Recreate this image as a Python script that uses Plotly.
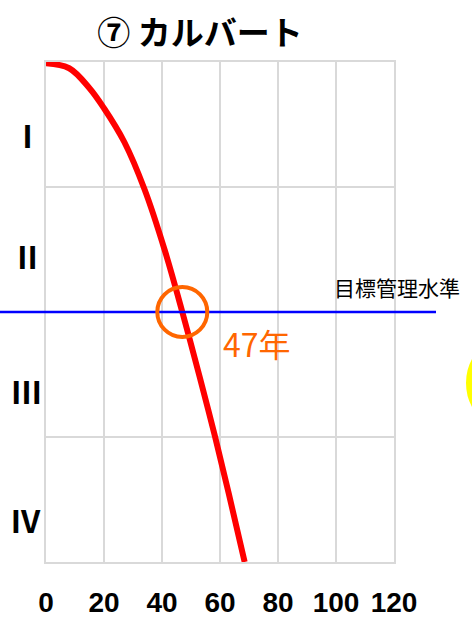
import plotly.graph_objects as go

# Deterioration curve: soundness level vs. elapsed years
years = [0, 8, 15, 20, 27, 34, 41, 47, 53, 58, 63, 68.5]
soundness = [3.99, 3.95, 3.79, 3.63, 3.36, 2.98, 2.49, 2.0, 1.48, 1.03, 0.55, 0.0]

x_ticks = [0, 20, 40, 60, 80, 100, 120]
grade_labels = ["Ⅰ", "Ⅱ", "Ⅲ", "Ⅳ"]
grade_bounds = [0, 1, 2, 3, 4]

target_level = 2.0
target_year = 47
target_label = "目標管理水準"
year_label = f"{target_year}年"
title_text = "⑦ カルバート"

X_RANGE = [0, 120]
Y_RANGE = [0, 4]
GRID = "#d9d9d9"
ORANGE = "#ff6600"
NARROW = "Liberation Sans Narrow, Liberation Sans, Arial, sans-serif"
JP = "Noto Sans CJK JP, sans-serif"

fig = go.Figure()
fig.add_trace(go.Scatter(
    x=years, y=soundness, mode="lines",
    line=dict(color="#ff0000", width=6, shape="spline"),
    hoverinfo="skip", showlegend=False,
))


def py(v):
    """Paper y fraction of a data y value."""
    return (v - Y_RANGE[0]) / (Y_RANGE[1] - Y_RANGE[0])


fig.update_layout(
    width=472, height=629,
    margin=dict(l=46, r=78, t=62, b=67),
    paper_bgcolor="white", plot_bgcolor="white",
    title=dict(
        text=title_text, xref="paper", x=0.4425, xanchor="center",
        yref="container", y=0.947, yanchor="middle",
        font=dict(family=JP, size=33, color="black", weight="bold"),
    ),
    xaxis=dict(
        range=X_RANGE, tickvals=x_ticks, showgrid=True, gridcolor=GRID, gridwidth=2,
        showline=True, linecolor=GRID, linewidth=2, mirror=True, zeroline=False,
        ticks="", ticklabelstandoff=14, tickangle=0, automargin=False,
        tickfont=dict(family=NARROW, size=28, color="black", weight="bold"),
    ),
    yaxis=dict(
        range=Y_RANGE, tickvals=grade_bounds, showticklabels=False,
        showgrid=True, gridcolor=GRID, gridwidth=2,
        showline=True, linecolor=GRID, linewidth=2, mirror=True,
        zeroline=False, ticks="", automargin=False,
    ),
)

# Grade labels I–IV placed in their bands, left of the axis
grade_label_y = [3.42, 2.45, 1.37, 0.34]
grade_label_x = [27, 27.5, 26, 25]
for lab, gy, gx in zip(grade_labels, grade_label_y, grade_label_x):
    fig.add_annotation(text=lab, xref="paper", yref="y",
                       x=(gx - 46) / 348, y=gy, xanchor="center", yanchor="middle",
                       showarrow=False,
                       font=dict(family=JP, size=31, color="black", weight="bold"))

# Target management level line, running past the plot edges
fig.add_shape(type="line", xref="paper", yref="paper",
              x0=-46 / 348, x1=390 / 348, y0=py(target_level), y1=py(target_level),
              line=dict(color="#0000ff", width=2.5), layer="above")

# Circle at the crossing point
fig.add_shape(type="circle", xref="x", yref="y",
              xsizemode="pixel", ysizemode="pixel",
              xanchor=target_year, yanchor=target_level,
              x0=-25, x1=25, y0=-25, y1=25,
              line=dict(color=ORANGE, width=4), layer="above")

# Partial yellow ring at the right edge
fig.add_shape(type="circle", xref="paper", yref="paper",
              xsizemode="pixel", ysizemode="pixel",
              xanchor=466 / 348, yanchor=179 / 500,
              x0=-43, x1=43, y0=-45, y1=45,
              line=dict(color="#ffff00", width=6), layer="above")

fig.add_annotation(text=target_label, xref="paper", yref="paper",
                   x=416 / 348, y=275 / 500, xanchor="right", yanchor="middle",
                   showarrow=False, font=dict(family=JP, size=21, color="black"))

fig.add_annotation(text=year_label, xref="x", yref="y",
                   x=60.5, y=1.75, xanchor="left", yanchor="middle",
                   showarrow=False, font=dict(family=JP, size=32, color=ORANGE))

fig.write_html("out.html")
